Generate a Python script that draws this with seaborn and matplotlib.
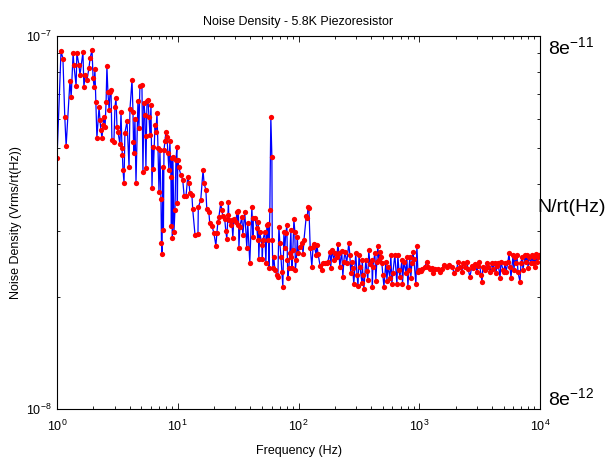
import numpy as np
import pandas as pd
import matplotlib
matplotlib.use("Agg")
import matplotlib.pyplot as plt
import seaborn as sns
from matplotlib.ticker import LogLocator, NullFormatter, LogFormatterSciNotation

# ---- data (frequency in Hz, noise in units of 1e-8 V/rt(Hz)) ----
freq_1_to_3 = [1.00, 1.08, 1.12, 1.16, 1.19, 1.28, 1.31, 1.36, 1.38, 1.44, 1.46, 1.52, 1.55, 1.64, 1.67,
               1.71, 1.77, 1.84, 1.88, 1.95, 1.99, 2.03, 2.06, 2.10, 2.14, 2.23, 2.27, 2.31, 2.36, 2.40,
               2.45, 2.50, 2.55, 2.59, 2.64, 2.70, 2.75, 2.80, 2.85, 2.96, 3.02, 3.08, 3.14, 3.20, 3.32,
               3.39, 3.45, 3.48, 3.52, 3.59]
noise_1_to_3 = [4.71, 9.12, 8.68, 6.07, 5.07, 7.58, 6.86, 9.00, 8.36, 7.35, 9.00, 8.36, 7.86, 9.06, 7.30,
                7.86, 7.62, 8.21, 8.73, 9.17, 7.72, 7.30, 8.16, 6.65, 5.33, 6.45, 5.95, 5.59, 5.33, 5.77,
                6.07, 5.70, 6.65, 8.31, 7.08, 6.33, 7.08, 7.16, 5.26, 5.20, 6.45, 6.82, 5.70, 5.53, 5.13,
                6.25, 5.01, 4.80, 4.37, 4.04]

freq_3_to_11 = [3.65, 3.80, 3.95, 4.02, 4.18, 4.26, 4.30, 4.34, 4.42, 4.51, 4.68, 4.77, 4.86, 5.05, 5.15,
                5.25, 5.35, 5.45, 5.50, 5.56, 5.67, 5.78, 5.89, 6.00, 6.12, 6.23, 6.29, 6.48, 6.60, 6.73,
                6.86, 6.99, 7.12, 7.26, 7.33, 7.40, 7.54, 7.61, 7.69, 7.83, 7.98, 8.14, 8.29, 8.45, 8.61,
                8.78, 8.86, 8.95, 9.03, 9.12, 9.30, 9.48, 9.66, 9.84, 9.93, 10.0, 10.2, 10.6, 11.0, 11.3]
noise_3_to_11 = [5.50, 5.91, 4.45, 6.37, 7.62, 6.25, 5.20, 4.85, 5.99, 4.04, 6.69, 5.66, 7.35, 7.39, 4.32,
                 6.61, 6.13, 4.42, 5.40, 6.69, 6.73, 6.07, 5.43, 6.53, 3.91, 5.04, 4.40, 5.77, 5.53, 6.21,
                 5.01, 3.82, 4.94, 3.66, 2.79, 2.61, 4.45, 3.02, 4.94, 5.23, 5.53, 5.36, 4.85, 4.37, 5.23,
                 4.19, 3.09, 4.71, 2.88, 4.74, 2.98, 3.41, 4.65, 5.04, 3.56, 4.65, 4.45, 4.24, 4.11, 3.72]

freq_11_to_43 = [11.7, 12.1, 12.4, 12.6, 13.1, 13.3, 13.9, 14.7, 14.8, 15.5, 16.2, 16.5, 17.1, 17.4, 18.1,
                 18.4, 19.2, 19.9, 20.7, 21.1, 21.5, 21.9, 22.7, 23.2, 23.6, 24.5, 25.0, 25.5, 26.0, 26.3,
                 26.5, 27.5, 28.0, 28.6, 29.1, 30.3, 30.9, 31.5, 31.8, 32.1, 32.7, 33.9, 34.6, 35.9, 37.3,
                 38.0, 39.5, 41.1, 41.9, 42.3]
noise_11_to_43 = [3.72, 4.19, 4.04, 3.79, 3.75, 3.43, 2.93, 2.95, 3.48, 3.63, 4.37, 4.04, 3.86, 3.43, 3.37,
                  3.15, 3.09, 2.97, 2.74, 2.97, 3.17, 3.27, 3.56, 3.41, 3.29, 3.23, 3.00, 2.86, 3.31, 3.58,
                  3.21, 3.11, 3.21, 2.88, 3.23, 3.17, 3.37, 3.11, 3.39, 2.71, 3.08, 3.27, 2.93, 3.37, 2.71,
                  3.15, 2.47, 3.48, 2.89, 3.25]

freq_43_to_240 = [43.5, 45.2, 46.0, 46.5, 46.9, 47.8, 49.7, 50.2, 50.7, 52.6, 53.7, 54.7, 55.7, 56.3, 56.8,
                  57.9, 59.0, 60.2, 60.6, 61.3, 62.5, 63.7, 66.2, 67.5, 68.8, 70.1, 71.5, 72.8, 74.2, 75.7,
                  77.1, 78.6, 80.1, 80.9, 81.7, 83.2, 84.8, 86.5, 87.3, 88.1, 89.8, 91.6, 93.3, 94.2, 96.0,
                  97.9, 98.8, 103, 107, 109, 111, 116, 118, 120, 122, 125, 129, 132, 134, 140,
                  142, 145, 151, 156, 159, 166, 172, 175, 182, 185, 189, 196, 200, 208, 212,
                  216, 220, 228, 233, 237]
noise_43_to_240 = [3.25, 3.06, 2.84, 3.17, 2.53, 2.98, 2.76, 2.53, 2.84, 2.98, 2.47, 3.11, 2.84, 3.13, 2.39,
                   3.41, 6.07, 4.74, 2.84, 2.39, 2.56, 2.36, 2.29, 2.26, 3.08, 2.79, 2.56, 2.33, 2.13, 2.98,
                   2.71, 2.97, 3.11, 2.51, 2.25, 2.39, 2.62, 3.02, 2.56, 2.39, 2.67, 3.23, 2.98, 2.36, 2.51,
                   2.89, 2.62, 2.72, 2.79, 2.61, 2.84, 3.29, 3.25, 3.48, 3.45, 2.71, 2.41, 2.72, 2.77, 2.59,
                   2.76, 2.61, 2.42, 2.36, 2.47, 2.47, 2.47, 2.48, 2.64, 2.39, 2.67, 2.51, 2.62, 2.56, 2.77,
                   2.62, 2.41, 2.66, 2.26, 2.48]

freq_240_to_1600 = [242, 251, 261, 266, 271, 276, 281, 287, 298, 305, 311, 317, 323, 335, 338,
                    341, 348, 361, 368, 375, 382, 390, 405, 409, 413, 429, 437, 445, 454, 462,
                    471, 480, 490, 499, 510, 529, 540, 550, 571, 582, 593, 605, 628, 653, 665,
                    678, 691, 719, 726, 746, 775, 790, 805, 821, 836, 852, 869, 885, 902, 938,
                    956, 975, 993, 1030, 1050, 1110, 1160, 1180, 1220, 1270, 1290, 1340, 1420, 1490, 1540]
noise_240_to_1600 = [2.64, 2.47, 2.79, 2.59, 2.32, 2.48, 2.39, 2.16, 2.62, 2.29, 2.14, 2.59, 2.41, 2.18, 2.51,
                     2.29, 2.10, 2.51, 2.35, 2.22, 2.67, 2.45, 2.51, 2.12, 2.41, 2.62, 2.21, 2.48, 2.74, 2.51,
                     2.64, 2.56, 2.47, 2.29, 2.13, 2.48, 2.21, 2.41, 2.25, 2.59, 2.16, 2.32, 2.59, 2.16, 2.58,
                     2.36, 2.26, 2.51, 2.16, 2.48, 2.32, 2.56, 2.13, 2.36, 2.56, 2.25, 2.47, 2.64, 2.53, 2.16,
                     2.74, 2.33, 2.36, 2.35, 2.38, 2.41, 2.48, 2.41, 2.38, 2.39, 2.32, 2.38, 2.38, 2.33, 2.38]

freq_1600_to_10k = [1600, 1700, 1760, 1870, 1940, 2050, 2090, 2180, 2260, 2300, 2390, 2490, 2530, 2630, 2730,
                    2790, 2900, 3010, 3070, 3130, 3250, 3310, 3370, 3500, 3640, 3710, 3850, 4000, 4080, 4240,
                    4320, 4410, 4490, 4670, 4750, 4940, 5030, 5130, 5230, 5430, 5540, 5640, 5750, 5980, 6090,
                    6210, 6330, 6450, 6570, 6830, 6960, 7100, 7230, 7510, 7660, 7810, 7960, 8110, 8420, 8590,
                    8750, 8920, 9090, 9270, 9450, 9630, 9810]
noise_1600_to_10k = [2.44, 2.41, 2.44, 2.41, 2.32, 2.38, 2.48, 2.41, 2.33, 2.47, 2.41, 2.48, 2.38, 2.26, 2.42,
                     2.39, 2.45, 2.33, 2.42, 2.48, 2.29, 2.19, 2.41, 2.36, 2.47, 2.41, 2.33, 2.47, 2.38, 2.47,
                     2.32, 2.42, 2.47, 2.25, 2.48, 2.36, 2.33, 2.47, 2.33, 2.48, 2.62, 2.41, 2.25, 2.58, 2.36,
                     2.56, 2.47, 2.58, 2.33, 2.19, 2.47, 2.56, 2.36, 2.58, 2.48, 2.59, 2.39, 2.55, 2.47, 2.58,
                     2.47, 2.56, 2.41, 2.61, 2.48, 2.55, 2.58]

title = "Noise Density - 5.8K Piezoresistor"
xlabel = "Frequency (Hz)"
ylabel = "Noise Density (Vrms/rt(Hz))"
right_top = "8e$^{-11}$"
right_mid = "N/rt(Hz)"
right_bot = "8e$^{-12}$"

# ---- style ----
sns.set_style("white")
plt.rcParams['font.family'] = ['Liberation Sans', 'DejaVu Sans']
plt.rcParams['mathtext.default'] = 'regular'
plt.rcParams['text.color'] = 'black'
plt.rcParams['axes.labelcolor'] = 'black'
plt.rcParams['xtick.color'] = 'black'
plt.rcParams['ytick.color'] = 'black'

freq = np.array(freq_1_to_3 + freq_3_to_11 + freq_11_to_43 + freq_43_to_240 +
                freq_240_to_1600 + freq_1600_to_10k, dtype=float)
noise = np.array(noise_1_to_3 + noise_3_to_11 + noise_11_to_43 + noise_43_to_240 +
                 noise_240_to_1600 + noise_1600_to_10k, dtype=float) * 1e-8
df = pd.DataFrame({"Frequency": freq, "Noise": noise})

fig = plt.figure(figsize=(6.11, 4.58), dpi=100)
fig.patch.set_facecolor('white')
ax = fig.add_axes([57 / 611, 1 - 409 / 458, 483 / 611, 373 / 458])

sns.lineplot(data=df, x="Frequency", y="Noise", ax=ax, estimator=None, sort=False,
             color='blue', linewidth=0.9, marker='o', markersize=3.8,
             markerfacecolor='red', markeredgecolor='red', markeredgewidth=0)

ax.set_xscale('log')
ax.set_yscale('log')
ax.set_xlim(1, 1e4)
ax.set_ylim(1e-8, 1e-7)

ax.xaxis.set_major_locator(LogLocator(base=10, numticks=10))
ax.xaxis.set_minor_locator(LogLocator(base=10, subs=np.arange(2, 10), numticks=50))
ax.yaxis.set_major_locator(LogLocator(base=10, numticks=10))
ax.yaxis.set_minor_locator(LogLocator(base=10, subs=np.arange(2, 10), numticks=50))
ax.xaxis.set_major_formatter(LogFormatterSciNotation())
ax.yaxis.set_major_formatter(LogFormatterSciNotation())
ax.xaxis.set_minor_formatter(NullFormatter())
ax.yaxis.set_minor_formatter(NullFormatter())

ax.tick_params(which='both', direction='in', top=True, right=True, bottom=True, left=True,
               labelsize=9, colors='black', width=0.6)
ax.tick_params(which='major', length=4.5, pad=4)
ax.tick_params(axis='x', which='major', pad=7)
ax.tick_params(which='minor', length=2.5)
for s in ax.spines.values():
    s.set_visible(True)
    s.set_color('black')
    s.set_linewidth(0.8)

ax.set_title(title, fontsize=9, pad=8)
ax.set_xlabel(xlabel, fontsize=9)
ax.set_ylabel(ylabel, fontsize=9)
ax.xaxis.set_label_coords(0.5, -0.097)
ax.yaxis.set_label_coords(-0.072, 0.5)

fig.text(548 / 611, 1 - 47 / 458, right_top, fontsize=14, ha='left', va='center')
fig.text(537 / 611, 1 - 207 / 458, right_mid, fontsize=14, ha='left', va='center')
fig.text(548 / 611, 1 - 398 / 458, right_bot, fontsize=14, ha='left', va='center')

fig.savefig("out.png", dpi=100, facecolor='white')
